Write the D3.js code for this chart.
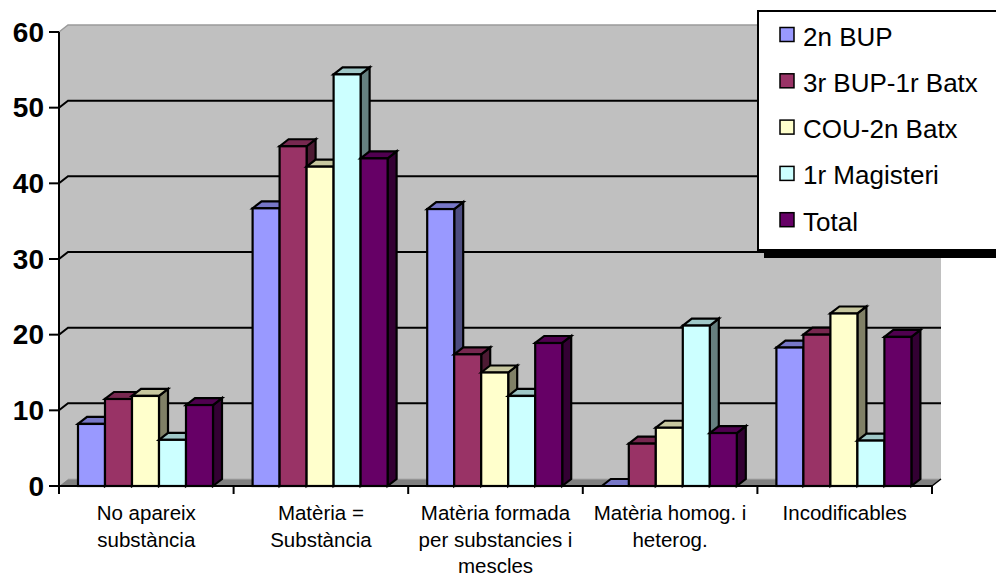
<!DOCTYPE html>
<html>
<head>
<meta charset="utf-8">
<script src="https://cdn.jsdelivr.net/npm/d3@7"></script>
<style>
  html, body { margin: 0; padding: 0; background: #fff; }
  svg { display: block; font-family: "Liberation Sans", Arial, sans-serif; }
</style>
</head>
<body>
<svg id="chart" width="996" height="576"></svg>
<script>
// Categories (x axis), drawn on up to three lines each
const categories = [
  "No apareix substància",
  "Matèria = Substància",
  "Matèria formada per substancies i mescles",
  "Matèria homog. i heterog.",
  "Incodificables"
];
const categoryLines = [
  ["No apareix", "substància"],
  ["Matèria =", "Substància"],
  ["Matèria formada", "per substancies i", "mescles"],
  ["Matèria homog. i", "heterog."],
  ["Incodificables"]
];

// Series (percentages per group)
const seriesNames = ["2n BUP", "3r BUP-1r Batx", "COU-2n Batx", "1r Magisteri", "Total"];
const bup2 = [8.2, 36.7, 36.6, 0, 18.3];
const bup3 = [11.5, 44.9, 17.4, 5.6, 20.0];
const cou = [11.9, 42.2, 15.0, 7.7, 22.8];
const magisteri = [6.1, 54.4, 11.9, 21.2, 6.0];
const total = [10.7, 43.3, 18.9, 7.0, 19.7];
const seriesValues = [bup2, bup3, cou, magisteri, total];
const seriesColors = ["#9999FF", "#993366", "#FFFFCC", "#CCFFFF", "#660066"];

const yTicks = [0, 10, 20, 30, 40, 50, 60];

(function draw() {
  const svg = d3.select("#chart");

  // Plot frame (front plane) and oblique depth
  const pLeft = 59, pRight = 932, pTop = 32, pBottom = 486;
  const DX = 9, DY = 7;

  const y = d3.scaleLinear().domain([0, 60]).range([pBottom, pTop]);
  const x0 = d3.scaleBand().domain(categories).range([pLeft, pRight]).padding(0);
  const groupW = 135, groupOff = 19;
  const x1 = d3.scaleBand().domain(seriesNames).range([0, groupW]).padding(0);

  const poly = pts => pts.map(p => p.join(",")).join(" ");

  // Walls
  svg.append("polygon")
    .attr("points", poly([[pLeft + DX, pTop - DY], [pRight + DX, pTop - DY], [pRight + DX, pBottom - DY], [pLeft + DX, pBottom - DY]]))
    .attr("fill", "#c0c0c0");
  svg.append("polygon")
    .attr("points", poly([[pLeft, pTop], [pLeft + DX, pTop - DY], [pLeft + DX, pBottom - DY], [pLeft, pBottom]]))
    .attr("fill", "#c0c0c0");
  svg.append("polyline")
    .attr("points", poly([[pLeft, pTop], [pLeft + DX, pTop - DY], [pRight + DX, pTop - DY]]))
    .attr("fill", "none").attr("stroke", "#9a9a9a").attr("stroke-width", 1.5);

  // Floor
  svg.append("polygon")
    .attr("points", poly([[pLeft, pBottom], [pRight, pBottom], [pRight + DX, pBottom - DY], [pLeft + DX, pBottom - DY]]))
    .attr("fill", "#808080");
  svg.append("line")
    .attr("x1", pLeft + DX).attr("x2", pRight + DX)
    .attr("y1", pBottom - DY).attr("y2", pBottom - DY)
    .attr("stroke", "#a8a8a8").attr("stroke-width", 1);
  svg.append("line")
    .attr("x1", pRight).attr("y1", pBottom).attr("x2", pRight + DX).attr("y2", pBottom - DY)
    .attr("stroke", "#000").attr("stroke-width", 1.5);

  // Gridlines on side and back walls
  yTicks.filter(t => t > 0 && t < 60).forEach(t => {
    svg.append("polyline")
      .attr("points", poly([[pLeft, y(t)], [pLeft + DX, y(t) - DY], [pRight + DX, y(t) - DY]]))
      .attr("fill", "none").attr("stroke", "#000").attr("stroke-width", 2);
  });

  // Bars with front, top and side faces
  const scaleColor = (c, k) => { const r = d3.rgb(c); return d3.rgb(r.r * k, r.g * k, r.b * k).formatHex(); };

  const bw = x1.bandwidth();
  categories.forEach((cat, ci) => {
    seriesNames.forEach((s, si) => {
      const v = seriesValues[si][ci];
      const col = seriesColors[si];
      const xl = x0(cat) + groupOff + x1(s);
      const xr = xl + bw;
      const yt = y(v), yb = y(0);
      const g = svg.append("g")
        .attr("stroke", "#000").attr("stroke-width", 2.2).attr("stroke-linejoin", "miter");
      g.append("polygon")
        .attr("points", poly([[xr, yb], [xr + DX, yb - DY], [xr + DX, yt - DY], [xr, yt]]))
        .attr("fill", scaleColor(col, 0.5));
      g.append("polygon")
        .attr("points", poly([[xl, yt], [xl + DX, yt - DY], [xr + DX, yt - DY], [xr, yt]]))
        .attr("fill", scaleColor(col, 0.78));
      if (v > 0) {
        g.append("rect")
          .attr("x", xl).attr("y", yt).attr("width", bw).attr("height", yb - yt)
          .attr("fill", col);
      }
    });
  });

  // Y axis
  svg.append("line")
    .attr("x1", pLeft).attr("x2", pLeft).attr("y1", pTop).attr("y2", pBottom)
    .attr("stroke", "#000").attr("stroke-width", 2);
  const yAxis = svg.append("g");
  yTicks.forEach(t => {
    yAxis.append("line")
      .attr("x1", pLeft - 10).attr("x2", pLeft).attr("y1", y(t)).attr("y2", y(t))
      .attr("stroke", "#000").attr("stroke-width", 2);
    yAxis.append("text")
      .attr("x", 44).attr("y", y(t) + 9.5)
      .attr("text-anchor", "end")
      .attr("font-size", 28).attr("font-weight", "bold")
      .text(t);
  });

  // X axis
  svg.append("line")
    .attr("x1", pLeft).attr("x2", pRight).attr("y1", pBottom).attr("y2", pBottom)
    .attr("stroke", "#000").attr("stroke-width", 2);
  const bounds = categories.map(c => x0(c)).concat([pRight]);
  bounds.forEach(bx => {
    svg.append("line")
      .attr("x1", bx).attr("x2", bx).attr("y1", pBottom).attr("y2", pBottom + 8)
      .attr("stroke", "#000").attr("stroke-width", 2);
  });
  categories.forEach((cat, ci) => {
    const t = svg.append("text")
      .attr("text-anchor", "middle")
      .attr("font-size", 20.5)
      .attr("fill", "#000");
    categoryLines[ci].forEach((ln, li) => {
      t.append("tspan")
        .attr("x", x0(cat) + x0.bandwidth() / 2)
        .attr("y", 520 + li * 26.7)
        .text(ln);
    });
  });

  // Legend with drop shadow
  const lg = svg.append("g");
  lg.append("rect").attr("x", 764).attr("y", 250).attr("width", 240).attr("height", 8).attr("fill", "#000");
  lg.append("rect").attr("x", 758).attr("y", 11).attr("width", 250).attr("height", 239)
    .attr("fill", "#fff").attr("stroke", "#000").attr("stroke-width", 2);
  seriesNames.forEach((s, i) => {
    const cy = 34.5 + i * 46.3;
    lg.append("rect")
      .attr("x", 780).attr("y", cy - 7).attr("width", 14).attr("height", 14)
      .attr("fill", seriesColors[i]).attr("stroke", "#000").attr("stroke-width", 1.5);
    lg.append("text")
      .attr("x", 803).attr("y", 45.5 + i * 46.3)
      .attr("font-size", 26)
      .text(s);
  });
})();
</script>
</body>
</html>
